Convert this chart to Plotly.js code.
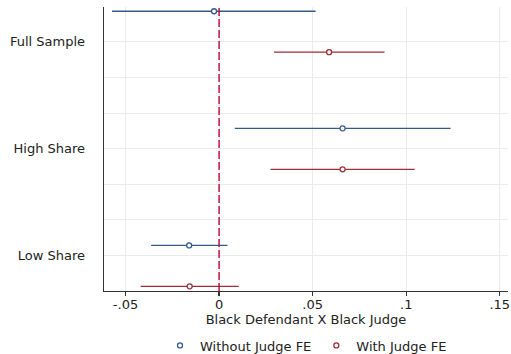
<!DOCTYPE html>
<html>
<head>
<meta charset="utf-8">
<script src="https://cdn.plot.ly/plotly-3.0.1.min.js"></script>
<style>html,body{margin:0;padding:0;background:#fff;}#chart{width:511px;height:354px;}</style>
</head>
<body>
<div id="chart"></div>
<script>
// Data
var groups = ["Full Sample", "High Share", "Low Share"];
var seriesNames = ["Without Judge FE", "With Judge FE"];
var noFE_est = [-0.0027, 0.0660, -0.0160];
var noFE_lo  = [-0.0572, 0.0084, -0.0363];
var noFE_hi  = [0.0516, 0.1237, 0.0045];
var fe_est   = [0.0588, 0.0660, -0.0157];
var fe_lo    = [0.0293, 0.0275, -0.0419];
var fe_hi    = [0.0884, 0.1045, 0.0105];
var xTickVals = [-0.05, 0, 0.05, 0.1, 0.15];
var xTickText = ["-.05", "0", ".05", ".1", ".15"];

// layout helpers (category positions on a continuous axis)
var groupPos = groups.map(function(_, i){ return 1 + 3*i; });
var blueY = groups.map(function(_, i){ return 0.14 + 3.29*i; });
var redY  = blueY.map(function(v){ return v + 1.15; });

var blue = "#345a8a", red = "#9b2f37";
function trace(name, est, lo, hi, ys, col){
  return {
    type: "scatter", mode: "markers", name: name,
    x: est, y: ys,
    marker: {symbol: "circle", size: 5, color: "#ffffff", line: {color: col, width: 1.3}},
    error_x: {type: "data", symmetric: false,
      array: hi.map(function(h, i){ return h - est[i]; }),
      arrayminus: lo.map(function(l, i){ return est[i] - l; }),
      width: 0, thickness: 1.3, color: col},
    hoverinfo: "skip"
  };
}
var data = [
  trace(seriesNames[0], noFE_est, noFE_lo, noFE_hi, blueY, blue),
  trace(seriesNames[1], fe_est, fe_lo, fe_hi, redY, red)
];
var font = {family: "DejaVu Sans, sans-serif", size: 13, color: "#222"};
var layout = {
  width: 511, height: 354,
  margin: {l: 104, r: 3, t: 7, b: 63, pad: 0, autoexpand: false},
  paper_bgcolor: "#fff", plot_bgcolor: "#fff",
  font: font,
  showlegend: true,
  legend: {orientation: "h", x: 0.5, xanchor: "center", yref: "container", y: 0.024, yanchor: "middle",
    font: font, itemwidth: 30, tracegroupgap: 0, borderwidth: 0},
  xaxis: {
    range: [-0.0615, 0.1544], tickvals: xTickVals, ticktext: xTickText,
    showgrid: true, gridcolor: "#ebebeb", gridwidth: 1, zeroline: false,
    showline: true, linecolor: "#333", linewidth: 1.3,
    ticks: "outside", ticklen: 4, tickcolor: "#333", tickwidth: 1.2,
    ticklabelstandoff: -3, tickfont: font,
    title: {text: "Black Defendant X Black Judge", font: font, standoff: 1}
  },
  yaxis: {
    range: [8, 0.02], tickvals: groupPos, ticktext: groups,
    showgrid: true, gridcolor: "#ebebeb", gridwidth: 1, zeroline: false,
    showline: true, linecolor: "#333", linewidth: 1.3,
    ticks: "", ticklabelstandoff: 15, tickfont: font,
    minor: {dtick: 1, tick0: 0, showgrid: true, gridcolor: "#ebebeb", gridwidth: 1, ticks: ""}
  },
  shapes: [{type: "line", xref: "x", yref: "paper", x0: 0, x1: 0, y0: 0, y1: 1,
    line: {color: "#c10534", width: 1.4, dash: "8px,3px"}, layer: "above"}]
};
Plotly.newPlot("chart", data, layout, {displayModeBar: false, staticPlot: true});
</script>
</body>
</html>
